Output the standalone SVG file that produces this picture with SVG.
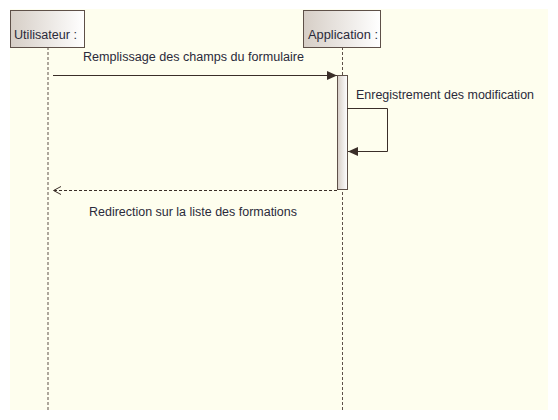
<svg xmlns="http://www.w3.org/2000/svg" width="558" height="420" viewBox="0 0 558 420">
<style>
text{font-family:"Liberation Sans",Arial,sans-serif;font-size:12.5px;fill:#2a2a3a}
.box{stroke:#5e5048;stroke-width:1}
.life{stroke:#5e5048;stroke-width:1;stroke-dasharray:3,2;fill:none}
.msg{stroke:#3a2e28;stroke-width:1;fill:none}
.ret{stroke:#3a2e28;stroke-width:1;fill:none;stroke-dasharray:3,2}
</style>
<defs>
<linearGradient id="g" x1="0" y1="0" x2="1" y2="0">
<stop offset="0" stop-color="#d6cec6"/>
<stop offset="1" stop-color="#ffffff"/>
</linearGradient>
<marker id="fill" markerWidth="11" markerHeight="9" refX="10" refY="4.5" orient="auto" markerUnits="userSpaceOnUse">
<path d="M0,0 L10,4.5 L0,9 z" fill="#3a2e28"/>
</marker>
</defs>
<rect x="0" y="0" width="558" height="420" fill="#ffffff"/>
<rect x="10" y="9" width="538" height="401" fill="#fefeee"/>
<g id="utilisateur">
<line class="life" x1="48" y1="47" x2="48" y2="410"/>
<rect class="box" x="10.5" y="10.5" width="74" height="37" fill="url(#g)"/>
<text x="14" y="39" textLength="63" lengthAdjust="spacingAndGlyphs">Utilisateur :</text>
</g>
<g id="application">
<line class="life" x1="342.5" y1="47" x2="342.5" y2="410"/>
<rect class="box" x="303.5" y="10.5" width="77" height="37" fill="url(#g)"/>
<text x="308" y="39" textLength="70" lengthAdjust="spacingAndGlyphs">Application :</text>
<rect class="box" x="337.5" y="75.5" width="10" height="114" fill="url(#g)"/>
</g>
<g id="connectors">
<line class="msg" x1="53" y1="75.5" x2="337" y2="75.5" marker-end="url(#fill)"/>
<text x="83" y="61" textLength="221" lengthAdjust="spacingAndGlyphs">Remplissage des champs du formulaire</text>
<polyline class="msg" points="347,108.5 387.5,108.5 387.5,151.5 348,151.5" marker-end="url(#fill)"/>
<text x="356" y="99" textLength="178" lengthAdjust="spacingAndGlyphs">Enregistrement des modification</text>
<line class="ret" x1="337" y1="190.5" x2="53.5" y2="190.5"/>
<path d="M61,186.5 L53.5,190.5 L61,194.5" fill="none" stroke="#3a2e28" stroke-width="1"/>
<text x="89" y="216" textLength="208" lengthAdjust="spacingAndGlyphs">Redirection sur la liste des formations</text>
</g>
</svg>
